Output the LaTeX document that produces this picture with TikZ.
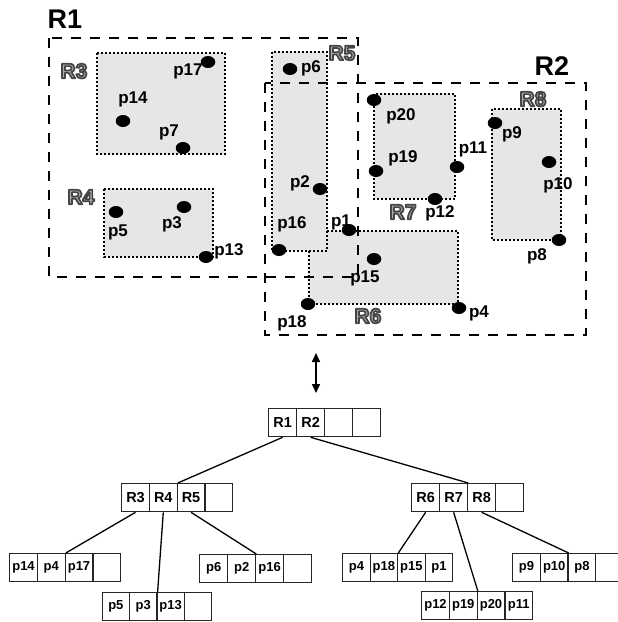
\documentclass[tikz,border=0pt]{standalone}
\usepackage{fontspec}
\setmainfont{Liberation Sans}
\usetikzlibrary{arrows.meta,shapes.geometric}
\definecolor{boxgray}{RGB}{230,230,230}
\newcommand\outl[1]{\special{pdf:literal direct q 2 Tr 1.7 w 1 j 0.27 0.27 0.27 RG 0.68 0.68 0.68 rg}#1\special{pdf:literal direct 0 Tr Q}}
\newcommand\rlab[4]{%
  \node[rlabi] (#1) at (#2,#3) {\outl{#4}};}
\newcommand\cellrow[9]{%
  \node[cell,minimum width=#4pt,#9] (#1-1) at (#2,#3) {#5};
  \node[cell,minimum width=#4pt,#9] (#1-2) at ({#2+#4},#3) {#6};
  \node[cell,minimum width=#4pt,#9] (#1-3) at ({#2+2*#4},#3) {#7};
  \node[cell,minimum width=#4pt,#9] (#1-4) at ({#2+3*#4},#3) {#8};}
\begin{document}
\begin{tikzpicture}[x=1pt,y=-1pt,
  region/.style={fill=boxgray,draw=black,line width=1.8pt,dash pattern=on 1.8pt off 2.2pt},
  mbr/.style={draw=black,line width=2.2pt,dash pattern=on 10pt off 9pt},
  dot/.style={ellipse,fill=black,inner sep=0pt,minimum width=14.5pt,minimum height=12pt},
  plab/.style={inner sep=0pt,font=\fontsize{17}{17}\selectfont\bfseries},
  biglab/.style={inner sep=0pt,font=\fontsize{27}{27}\selectfont\bfseries},
  rlabi/.style={inner sep=0pt,font=\fontsize{21}{21}\selectfont\bfseries},
  cell/.style={draw=black!85,line width=1.3pt,inner sep=0pt,minimum height=28pt,anchor=north west},
  rtxt/.style={font=\fontsize{14.5}{14.5}\selectfont\bfseries},
  ptxt/.style={font=\fontsize{13}{13}\selectfont\bfseries},
  link/.style={draw=black,line width=1.3pt}]
\useasboundingbox (0,0) rectangle (618,622);
% shaded regions
\draw[region] (309,231) rectangle (458,304);
\draw[region] (272,52) rectangle (327,251);
\draw[region] (97,53) rectangle (225,154);
\draw[region] (104,189) rectangle (213,257);
\draw[region] (374,94) rectangle (455,199);
\draw[region] (492,109) rectangle (561,240);
% dashed MBRs
\draw[mbr] (49,38) rectangle (358,277);
\draw[mbr] (265,83) rectangle (586,335);
\node[biglab] (lR1) at (65,19) {R1};
\node[biglab] (lR2) at (552,66) {R2};
\rlab{lR3}{74}{71}{R3}
\rlab{lR4}{81}{197}{R4}
\rlab{lR5}{342}{53}{R5}
\rlab{lR6}{368}{316}{R6}
\rlab{lR7}{403}{212}{R7}
\rlab{lR8}{533}{99}{R8}
% points
\node[dot] (p17) at (208,62) {}; \node[plab] (lp17) at (188,71) {p17};
\node[dot] (p14) at (123,121) {}; \node[plab] (lp14) at (133,99) {p14};
\node[dot] (p7) at (183,148) {}; \node[plab] (lp7) at (169,132) {p7};
\node[dot] (p5) at (116,212) {}; \node[plab] (lp5) at (118,232) {p5};
\node[dot] (p3) at (184,207) {}; \node[plab] (lp3) at (172,224) {p3};
\node[dot] (p13) at (206,257) {}; \node[plab] (lp13) at (229,251) {p13};
\node[dot] (p6) at (290,69) {}; \node[plab] (lp6) at (311,68) {p6};
\node[dot] (p2) at (320,189) {}; \node[plab] (lp2) at (300,183) {p2};
\node[dot] (p16) at (279,250) {}; \node[plab] (lp16) at (292,224) {p16};
\node[dot] (p1) at (349,230) {}; \node[plab] (lp1) at (341,222) {p1};
\node[dot] (p15) at (374,259) {}; \node[plab] (lp15) at (365,278) {p15};
\node[dot] (p18) at (308,304) {}; \node[plab] (lp18) at (292,323) {p18};
\node[dot] (p4) at (459,308) {}; \node[plab] (lp4) at (479,313) {p4};
\node[dot] (p20) at (374,100) {}; \node[plab] (lp20) at (401,116) {p20};
\node[dot] (p19) at (376,171) {}; \node[plab] (lp19) at (403,158) {p19};
\node[dot] (p11) at (457,167) {}; \node[plab] (lp11) at (473,149) {p11};
\node[dot] (p12) at (435,199) {}; \node[plab] (lp12) at (440,213) {p12};
\node[dot] (p9) at (495,123) {}; \node[plab] (lp9) at (512,134) {p9};
\node[dot] (p10) at (549,162) {}; \node[plab] (lp10) at (558,185) {p10};
\node[dot] (p8) at (559,240) {}; \node[plab] (lp8) at (537,256) {p8};
% double arrow
\coordinate (atop) at (316,353);
\coordinate (abot) at (316,393);
\draw[line width=1.6pt,{Triangle[length=9pt,width=8pt]}-{Triangle[length=9pt,width=8pt]}] (atop) -- (abot);
% tree
\cellrow{root}{268}{408}{28}{R1}{R2}{}{}{rtxt}
\cellrow{nl}{121}{483}{27.75}{R3}{R4}{R5}{}{rtxt}
\cellrow{nr}{411}{483}{28}{R6}{R7}{R8}{}{rtxt}
\cellrow{la}{9}{553}{27.75}{p14}{p4}{p17}{}{ptxt}
\cellrow{lb}{101.5}{592}{27.4}{p5}{p3}{p13}{}{ptxt}
\cellrow{lc}{199}{554}{28}{p6}{p2}{p16}{}{ptxt}
\cellrow{ld}{342}{553}{27.5}{p4}{p18}{p15}{p1}{ptxt}
\cellrow{le}{421}{591}{27.75}{p12}{p19}{p20}{p11}{ptxt}
\cellrow{lf}{512}{553}{27.7}{p9}{p10}{p8}{}{ptxt}
\draw[link] (root-1.south) -- (nl-2.north east);
\draw[link] (root-2.south) -- (nr-2.north east);
\draw[link] (nl-1.south) -- (la-2.north east);
\draw[link] (nl-2.south) -- (lb-2.north east);
\draw[link] (nl-3.south) -- (lc-2.north east);
\draw[link] (nr-1.south) -- (ld-2.north east);
\draw[link] (nr-2.south) -- (le-2.north east);
\draw[link] (nr-3.south) -- (lf-2.north east);
\end{tikzpicture}
\end{document}
